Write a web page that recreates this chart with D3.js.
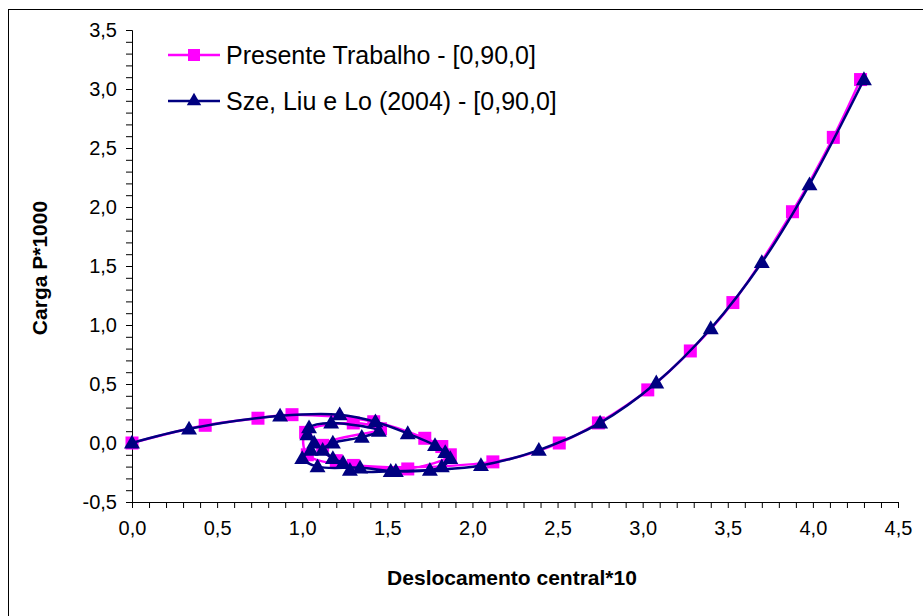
<!DOCTYPE html>
<html>
<head>
<meta charset="utf-8">
<script src="https://cdn.jsdelivr.net/npm/d3@7"></script>
<style>
  html, body { margin: 0; padding: 0; background: #fff; }
  svg { display: block; }
  text { font-family: "Liberation Sans", Arial, sans-serif; fill: #000; }
</style>
</head>
<body>
<svg id="chart" width="923" height="616"></svg>
<script>
// Load–displacement path, present work (squares)
const presenteX = [0.00, 0.43, 0.74, 0.94, 1.42, 1.72, 1.82, 1.87, 1.62, 1.30, 1.03, 1.02, 1.30, 1.46, 1.12, 1.20, 2.12, 2.51, 2.74, 3.03, 3.28, 3.53, 3.88, 4.12, 4.28];
const presenteY = [0.00, 0.15, 0.21, 0.24, 0.18, 0.04, -0.03, -0.10, -0.22, -0.19, -0.10, 0.09, 0.17, 0.12, -0.02, -0.15, -0.16, 0.00, 0.17, 0.45, 0.78, 1.19, 1.96, 2.59, 3.08];

// Load–displacement path, Sze, Liu & Lo (2004) (triangles)
const szeX = [0.00, 0.335, 0.87, 1.22, 1.43, 1.62, 1.78, 1.84, 1.87, 1.82, 1.75, 1.55, 1.34, 1.09, 1.00, 1.05, 1.07, 1.03, 1.04, 1.17, 1.45, 1.35, 1.18, 1.12, 1.18, 1.24, 1.28, 1.52, 2.05, 2.39, 2.75, 3.08, 3.40, 3.70, 3.98, 4.30];
const szeY = [0.00, 0.12, 0.23, 0.24, 0.18, 0.08, -0.02, -0.08, -0.13, -0.20, -0.23, -0.24, -0.21, -0.20, -0.13, -0.06, 0.00, 0.07, 0.13, 0.17, 0.10, 0.05, 0.00, -0.06, -0.13, -0.17, -0.23, -0.24, -0.19, -0.06, 0.17, 0.51, 0.97, 1.53, 2.19, 3.08];

const xTicks = [0, 0.5, 1, 1.5, 2, 2.5, 3, 3.5, 4, 4.5];
const yTicks = [-0.5, 0, 0.5, 1, 1.5, 2, 2.5, 3, 3.5];

const seriesNames = ["Presente Trabalho - [0,90,0]", "Sze, Liu e Lo (2004) - [0,90,0]"];
const seriesColors = ["#FF00FF", "#000080"];

const svg = d3.select("#chart");

// chart area frame
svg.append("rect")
  .attr("x", 8.5).attr("y", 9.5)
  .attr("width", 1000).attr("height", 1000)
  .attr("fill", "none").attr("stroke", "#000").attr("stroke-width", 1);

const x = d3.scaleLinear().domain([0, 4.5]).range([132, 898]);
const y = d3.scaleLinear().domain([-0.5, 3.5]).range([502, 30]);

const fmt = d => d3.format(".1f")(d).replace(".", ",").replace("−", "-");

// minor ticks every 0.1
const xMinor = d3.range(0, 45.01, 1).map(d => d / 10);
const yMinor = d3.range(-5, 35.01, 1).map(d => d / 10);

const xAxisG = svg.append("g").attr("transform", `translate(0,${y(-0.5)})`);
xAxisG.call(d3.axisBottom(x).tickValues(xMinor).tickSize(6).tickFormat(""));
const yAxisG = svg.append("g").attr("transform", `translate(${x(0)},0)`);
yAxisG.call(d3.axisLeft(y).tickValues(yMinor).tickSize(6).tickFormat(""));
[xAxisG, yAxisG].forEach(g => {
  g.select(".domain").attr("stroke", "#000").attr("stroke-width", 1);
  g.selectAll(".tick line").attr("stroke", "#000").attr("stroke-width", 1);
});

// major tick labels
const xLab = svg.append("g").attr("transform", `translate(0,${y(-0.5)})`)
  .call(d3.axisBottom(x).tickValues(xTicks).tickSize(0).tickPadding(19).tickFormat(fmt));
xLab.select(".domain").remove();
xLab.selectAll("text").attr("font-size", 20).attr("font-family", "Liberation Sans, Arial, sans-serif").attr("fill", "#000");

const yLab = svg.append("g").attr("transform", `translate(${x(0)},0)`)
  .call(d3.axisLeft(y).tickValues(yTicks).tickSize(0).tickPadding(15).tickFormat(fmt));
yLab.select(".domain").remove();
yLab.selectAll("text").attr("font-size", 20).attr("font-family", "Liberation Sans, Arial, sans-serif").attr("fill", "#000");

// axis titles
svg.append("text")
  .attr("x", 512).attr("y", 585)
  .attr("text-anchor", "middle")
  .attr("font-size", 21).attr("font-weight", "bold")
  .text("Deslocamento central*10");

svg.append("text")
  .attr("transform", "translate(47,268) rotate(-90)")
  .attr("text-anchor", "middle")
  .attr("font-size", 21).attr("font-weight", "bold")
  .text("Carga P*1000");

// series
const line = d3.line().x(d => x(d[0])).y(d => y(d[1])).curve(d3.curveCatmullRom.alpha(0.5));

const presente = presenteX.map((v, i) => [v, presenteY[i]]);
const sze = szeX.map((v, i) => [v, szeY[i]]);

const sqSize = 13;
const triSym = d3.symbol().type(d3.symbolTriangle).size(110);

function drawSquares(g, pts, color, s) {
  g.selectAll("rect.m").data(pts).join("rect")
    .attr("class", "m")
    .attr("x", d => x(d[0]) - s / 2).attr("y", d => y(d[1]) - s / 2)
    .attr("width", s).attr("height", s)
    .attr("fill", color);
}
function drawTriangles(g, pts, color, sym) {
  g.selectAll("path.m").data(pts).join("path")
    .attr("class", "m")
    .attr("d", sym)
    .attr("transform", d => `translate(${x(d[0])},${y(d[1]) + 1})`)
    .attr("fill", color);
}

const g1 = svg.append("g");
g1.append("path").attr("d", line(presente)).attr("fill", "none")
  .attr("stroke", seriesColors[0]).attr("stroke-width", 2.5);
drawSquares(g1, presente, seriesColors[0], sqSize);

const g2 = svg.append("g");
g2.append("path").attr("d", line(sze)).attr("fill", "none")
  .attr("stroke", seriesColors[1]).attr("stroke-width", 2.5);
drawTriangles(g2, sze, seriesColors[1], triSym);

// legend
const legend = svg.append("g");
const legRows = [55, 101];
legRows.forEach((ly, i) => {
  legend.append("line")
    .attr("x1", 168).attr("x2", 220).attr("y1", ly).attr("y2", ly)
    .attr("stroke", seriesColors[i]).attr("stroke-width", 2.5);
  if (i === 0) {
    legend.append("rect").attr("x", 194 - 6).attr("y", ly - 6).attr("width", 12).attr("height", 12)
      .attr("fill", seriesColors[i]);
  } else {
    legend.append("path").attr("d", d3.symbol().type(d3.symbolTriangle).size(90)())
      .attr("transform", `translate(194,${ly})`).attr("fill", seriesColors[i]);
  }
  legend.append("text")
    .attr("x", 226).attr("y", ly + 9)
    .attr("font-size", 25)
    .text(seriesNames[i]);
});
</script>
</body>
</html>
